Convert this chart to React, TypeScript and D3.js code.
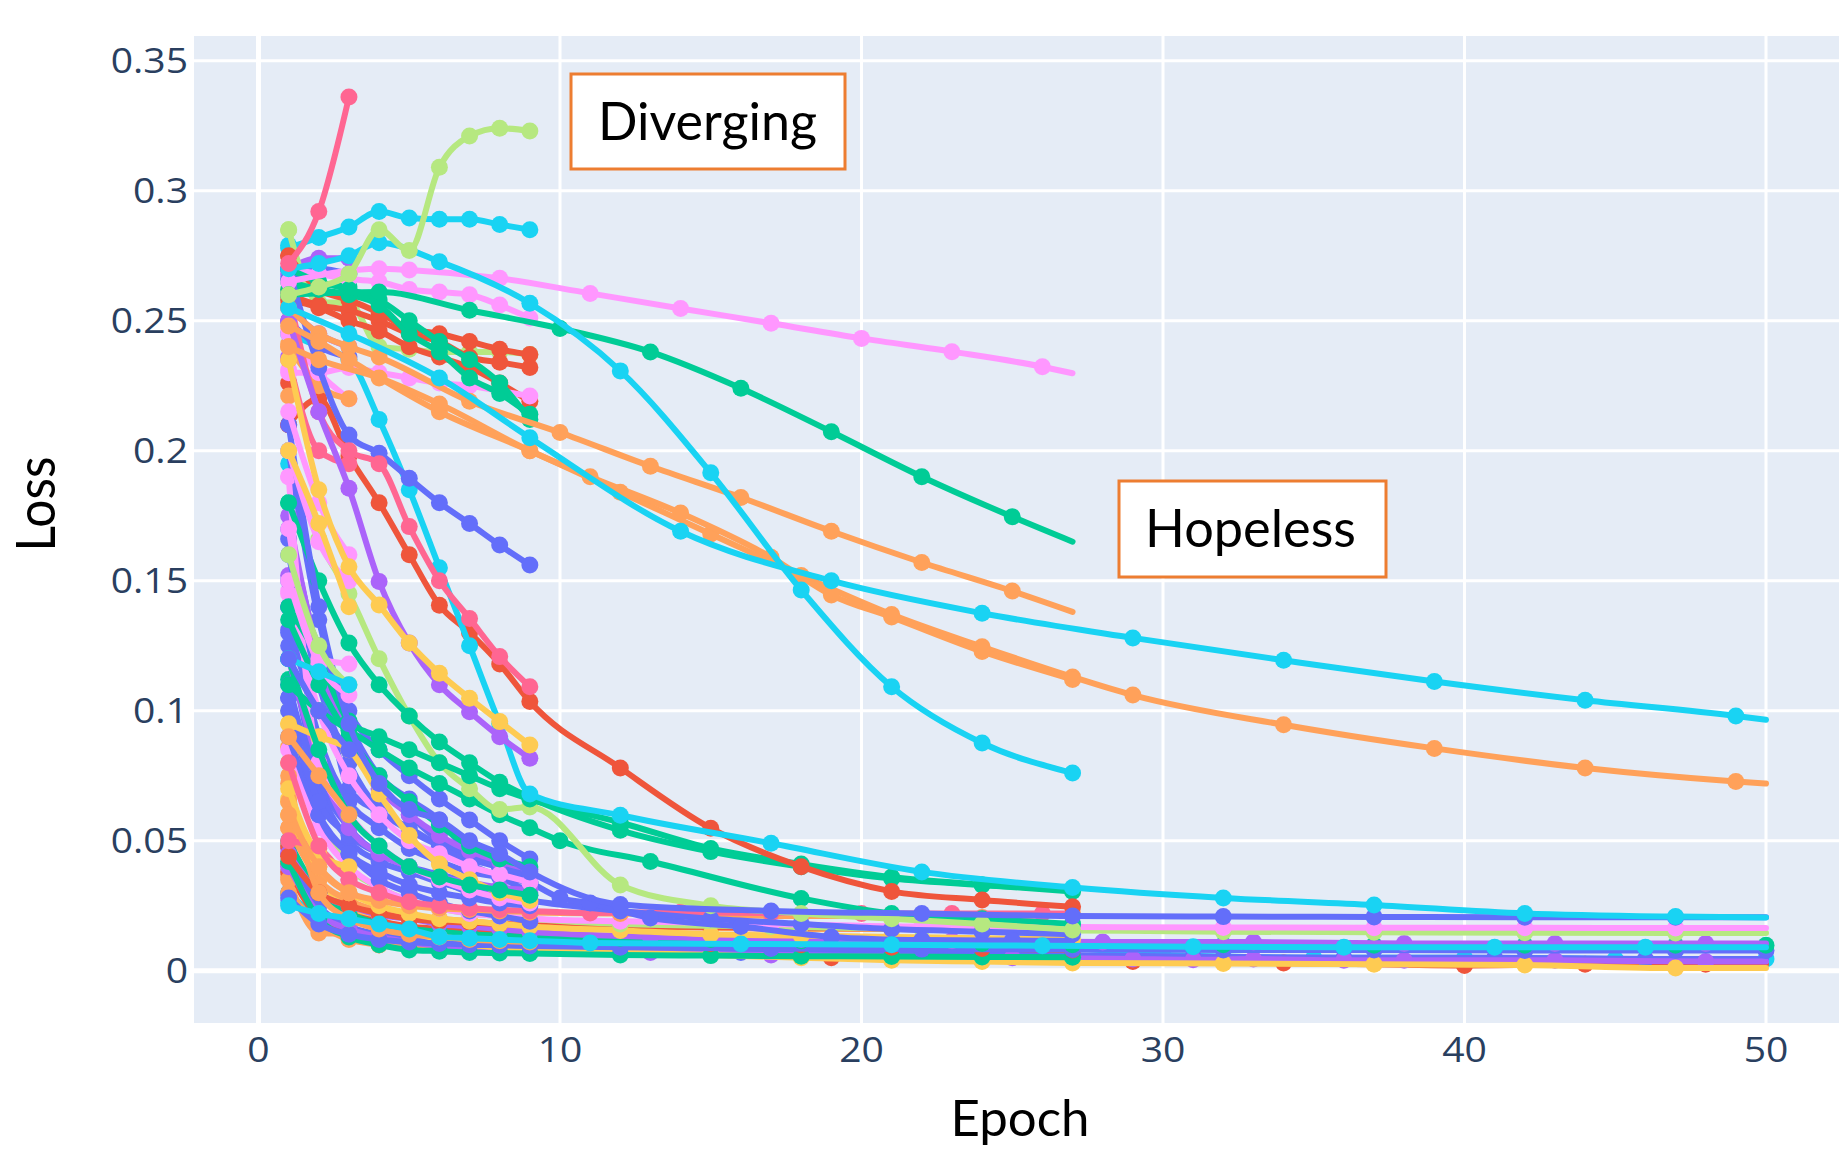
import React from "react";
import * as d3 from "d3";

// plotly default palette
const B = "#636EFA";
const R = "#EF553B";
const G = "#00CC96";
const P = "#AB63FA";
const O = "#FFA15A";
const C = "#19D3F3";
const K = "#FF6692";
const L = "#B6E880";
const M = "#FF97FF";
const Y = "#FECB52";

type Pt = [number, number];
type Run = { color: string; points: Pt[]; tail?: Pt };

// trials that only ran one epoch
const epochOneLosses = [
  0.285, 0.279, 0.275, 0.268, 0.262, 0.256, 0.25, 0.246, 0.241, 0.236, 0.231, 0.226, 0.221,
  0.21, 0.2, 0.195, 0.19, 0.18, 0.166, 0.152, 0.146, 0.14, 0.131, 0.12, 0.112, 0.105, 0.095,
  0.09, 0.086, 0.08, 0.072, 0.066, 0.06, 0.055, 0.047, 0.041, 0.036, 0.03, 0.026,
];
const epochOneColors = [
  L, C, R, P, Y, O, K, M, O, P, M, R, O, R, C, C, M, G, B, P, M, B, B, C, G, B, Y, Y, O, O, O,
  Y, O, O, P, R, O, R, C,
];

// stopped after 3 epochs
const shortRuns: Run[] = [
  { color: P, points: [[1, 0.27], [2, 0.274], [3, 0.274]] },
  { color: B, points: [[1, 0.266], [2, 0.27], [3, 0.268]] },
  { color: G, points: [[1, 0.262], [2, 0.264], [3, 0.263]] },
  { color: P, points: [[1, 0.255], [2, 0.245], [3, 0.24]] },
  { color: B, points: [[1, 0.25], [2, 0.24], [3, 0.236]] },
  { color: M, points: [[1, 0.245], [2, 0.23], [3, 0.22]] },
  { color: O, points: [[1, 0.24], [2, 0.225], [3, 0.22]] },
  { color: K, points: [[1, 0.235], [2, 0.2], [3, 0.195]] },
  { color: M, points: [[1, 0.215], [2, 0.18], [3, 0.16]] },
  { color: M, points: [[1, 0.2], [2, 0.165], [3, 0.15]] },
  { color: Y, points: [[1, 0.2], [2, 0.172], [3, 0.14]] },
  { color: M, points: [[1, 0.17], [2, 0.12], [3, 0.118]] },
  { color: M, points: [[1, 0.15], [2, 0.118], [3, 0.106]] },
  { color: L, points: [[1, 0.16], [2, 0.125], [3, 0.11]] },
  { color: C, points: [[1, 0.12], [2, 0.115], [3, 0.11]] },
  { color: B, points: [[1, 0.12], [2, 0.1], [3, 0.085]] },
  { color: O, points: [[1, 0.09], [2, 0.075], [3, 0.06]] },
  { color: Y, points: [[1, 0.07], [2, 0.045], [3, 0.04]] },
  { color: K, points: [[1, 0.08], [2, 0.048], [3, 0.035]] },
  { color: O, points: [[1, 0.06], [2, 0.04], [3, 0.03]] },
];

// converging trials, near the bottom
const convergingRuns: Run[] = [
  { color: C, points: [[1, 0.03], [2, 0.02], [3, 0.016], [4, 0.013], [5, 0.012], [6, 0.011], [7, 0.0105], [8, 0.01], [9, 0.0098], [12, 0.0095], [15, 0.009], [18, 0.0088], [21, 0.0087], [24, 0.0087], [27, 0.0085], [30, 0.006], [35, 0.005], [40, 0.005], [45, 0.0045], [50, 0.0045]] },
  { color: R, points: [[1, 0.038], [2, 0.02], [3, 0.014], [4, 0.011], [5, 0.0095], [6, 0.009], [7, 0.0085], [8, 0.008], [9, 0.0078], [12, 0.007], [15, 0.0065], [19, 0.005], [24, 0.004], [29, 0.0035], [34, 0.003], [40, 0.002], [44, 0.0025], [48, 0.0025]], tail: [50, 0.0025] },
  { color: O, points: [[1, 0.035], [2, 0.0145], [3, 0.0141], [4, 0.0099], [5, 0.009], [6, 0.0085], [7, 0.008], [8, 0.0075], [9, 0.0072]] },
  { color: O, points: [[1, 0.03], [2, 0.018], [3, 0.012], [4, 0.01], [5, 0.009], [6, 0.0085], [7, 0.008], [8, 0.0078], [9, 0.0075], [12, 0.007], [15, 0.0065], [18, 0.006], [21, 0.006], [24, 0.0055], [27, 0.0055]] },
  { color: B, points: [[1, 0.045], [2, 0.025], [3, 0.017], [4, 0.014], [5, 0.012], [6, 0.011], [7, 0.01], [8, 0.0095], [9, 0.009], [12, 0.008], [16, 0.007], [21, 0.0065], [26, 0.006], [31, 0.0055], [36, 0.005], [41, 0.005], [46, 0.0045]], tail: [50, 0.0045] },
  { color: P, points: [[1, 0.04], [2, 0.022], [3, 0.016], [4, 0.013], [5, 0.011], [6, 0.0095], [7, 0.009], [8, 0.0085], [9, 0.008], [13, 0.007], [17, 0.006], [21, 0.0055], [25, 0.005], [29, 0.0045], [31, 0.0042], [33, 0.0045], [36, 0.004], [38, 0.004], [43, 0.004], [48, 0.0035]], tail: [50, 0.0035] },
  { color: Y, points: [[1, 0.06], [2, 0.035], [3, 0.025], [4, 0.02], [5, 0.015], [6, 0.012], [7, 0.01], [8, 0.009], [9, 0.0085], [12, 0.007], [15, 0.006], [18, 0.005], [21, 0.004], [24, 0.0035], [27, 0.003], [32, 0.0028], [37, 0.0025], [42, 0.0022], [47, 0.001]], tail: [50, 0.001] },
  { color: G, points: [[1, 0.042], [2, 0.02], [3, 0.013], [4, 0.01], [5, 0.008], [6, 0.0075], [7, 0.007], [8, 0.0068], [9, 0.0066], [12, 0.006], [15, 0.0058], [18, 0.0056], [21, 0.0055], [24, 0.0053], [27, 0.0052]] },
  { color: R, points: [[1, 0.048], [2, 0.03], [3, 0.022], [4, 0.019], [5, 0.017], [6, 0.016], [7, 0.015], [8, 0.0145], [9, 0.014], [12, 0.012], [15, 0.0105], [18, 0.01], [21, 0.009], [24, 0.0085], [27, 0.008]] },
  { color: B, points: [[1, 0.028], [2, 0.018], [3, 0.014], [4, 0.012], [5, 0.011], [6, 0.0105], [7, 0.01], [8, 0.0098], [9, 0.0095], [12, 0.009], [17, 0.0085], [22, 0.0083], [27, 0.0082], [32, 0.008], [37, 0.008], [42, 0.0078], [47, 0.0078], [50, 0.0078]] },
  { color: G, points: [[1, 0.05], [2, 0.03], [3, 0.022], [4, 0.018], [5, 0.016], [6, 0.015], [7, 0.014], [8, 0.0135], [9, 0.013], [12, 0.0125], [15, 0.012], [18, 0.0115], [21, 0.011], [24, 0.0105], [27, 0.01], [32, 0.01], [37, 0.0098], [42, 0.0098], [47, 0.0098], [50, 0.0098]] },
  { color: P, points: [[1, 0.045], [2, 0.03], [3, 0.025], [4, 0.0214], [5, 0.02], [6, 0.018], [7, 0.017], [8, 0.016], [9, 0.015], [13, 0.013], [18, 0.012], [23, 0.0115], [28, 0.011], [33, 0.011], [38, 0.0105], [43, 0.0105], [48, 0.0105]], tail: [50, 0.0105] },
  { color: O, points: [[1, 0.055], [2, 0.035], [3, 0.027], [4, 0.023], [5, 0.021], [6, 0.02], [7, 0.019], [8, 0.018], [9, 0.0175], [12, 0.017], [15, 0.0165], [18, 0.016], [21, 0.016], [24, 0.0158], [27, 0.0155]] },
  { color: R, points: [[1, 0.044], [2, 0.03], [3, 0.025], [4, 0.022], [5, 0.02], [6, 0.019], [7, 0.0185], [8, 0.018], [9, 0.0175], [12, 0.017], [15, 0.0168], [18, 0.0165], [21, 0.0162], [24, 0.016], [27, 0.0158]] },
  { color: Y, points: [[1, 0.065], [2, 0.04], [3, 0.03], [4, 0.025], [5, 0.022], [6, 0.02], [7, 0.019], [8, 0.018], [9, 0.017], [12, 0.0155], [15, 0.014], [18, 0.0135], [21, 0.013], [24, 0.0125], [27, 0.012]] },
  { color: L, points: [[1, 0.1], [2, 0.06], [3, 0.04], [4, 0.032], [5, 0.027], [6, 0.024], [7, 0.022], [8, 0.021], [9, 0.02], [12, 0.018], [17, 0.017], [22, 0.016], [27, 0.0155], [32, 0.015], [37, 0.0148], [42, 0.0146], [47, 0.0145]], tail: [50, 0.0145] },
  { color: M, points: [[1, 0.085], [2, 0.055], [3, 0.04], [4, 0.032], [5, 0.027], [6, 0.024], [7, 0.022], [8, 0.021], [9, 0.02], [12, 0.019], [17, 0.018], [22, 0.017], [27, 0.0168], [32, 0.0166], [37, 0.0165], [42, 0.0165], [47, 0.0164]], tail: [50, 0.0164] },
  { color: O, points: [[1, 0.075], [2, 0.03], [3, 0.02], [4, 0.016], [5, 0.014], [6, 0.013], [7, 0.012], [8, 0.0115], [9, 0.011]] },
  { color: B, points: [[1, 0.09], [2, 0.06], [3, 0.045], [4, 0.035], [5, 0.03], [6, 0.026], [7, 0.023], [8, 0.021], [9, 0.019]] },
  { color: O, points: [[1, 0.065], [2, 0.04], [3, 0.03], [4, 0.027], [5, 0.025], [6, 0.024], [7, 0.0235], [8, 0.023], [9, 0.0225], [12, 0.022], [15, 0.0215], [18, 0.021], [21, 0.021], [24, 0.0205], [27, 0.022]] },
  { color: K, points: [[1, 0.05], [2, 0.047], [3, 0.035], [4, 0.03], [5, 0.0265], [6, 0.025], [7, 0.024], [8, 0.0234], [9, 0.023], [11, 0.0222], [14, 0.0225], [17, 0.0222], [20, 0.022], [23, 0.022], [26, 0.022]], tail: [27, 0.022] },
  { color: B, points: [[1, 0.11], [2, 0.07], [3, 0.05], [4, 0.042], [5, 0.038], [6, 0.034], [7, 0.031], [8, 0.029], [9, 0.027], [12, 0.023], [15, 0.02], [18, 0.018], [21, 0.016], [24, 0.015], [27, 0.014]] },
  { color: B, points: [[1, 0.17], [2, 0.12], [3, 0.07], [4, 0.061], [5, 0.054], [6, 0.048], [7, 0.043], [8, 0.0395], [9, 0.034], [10, 0.028], [11, 0.026], [13, 0.0203], [16, 0.017], [19, 0.013], [22, 0.0118], [25, 0.0116]], tail: [27, 0.0115] },
  { color: B, points: [[1, 0.14], [2, 0.09], [3, 0.065], [4, 0.055], [5, 0.047], [6, 0.042], [7, 0.038], [8, 0.036], [9, 0.034]] },
  { color: B, points: [[1, 0.16], [2, 0.11], [3, 0.08], [4, 0.062], [5, 0.055], [6, 0.048], [7, 0.041], [8, 0.036], [9, 0.03]] },
  { color: B, points: [[1, 0.125], [2, 0.075], [3, 0.055], [4, 0.045], [5, 0.04], [6, 0.035], [7, 0.03], [8, 0.028], [9, 0.026]] },
  { color: B, points: [[1, 0.105], [2, 0.06], [3, 0.045], [4, 0.038], [5, 0.033], [6, 0.03], [7, 0.028], [8, 0.026], [9, 0.025]] },
  { color: B, points: [[1, 0.15], [2, 0.125], [3, 0.095], [4, 0.075], [5, 0.066], [6, 0.058], [7, 0.045], [8, 0.04], [9, 0.036]] },
  { color: B, points: [[1, 0.13], [2, 0.1], [3, 0.085], [4, 0.072], [5, 0.06], [6, 0.05], [7, 0.045], [8, 0.04], [9, 0.037]] },
  { color: B, points: [[1, 0.1], [2, 0.065], [3, 0.052], [4, 0.045], [5, 0.04], [6, 0.037], [7, 0.034], [8, 0.031], [9, 0.029]] },
  { color: B, points: [[1, 0.2], [2, 0.135], [3, 0.1], [4, 0.085], [5, 0.075], [6, 0.066], [7, 0.058], [8, 0.05], [9, 0.043]] },
  { color: P, points: [[1, 0.12], [2, 0.08], [3, 0.055], [4, 0.045], [5, 0.04], [6, 0.036], [7, 0.034], [8, 0.032], [9, 0.031]] },
  { color: P, points: [[1, 0.175], [2, 0.12], [3, 0.09], [4, 0.07], [5, 0.06], [6, 0.052], [7, 0.046], [8, 0.042], [9, 0.039]] },
  { color: M, points: [[1, 0.145], [2, 0.1], [3, 0.075], [4, 0.06], [5, 0.05], [6, 0.045], [7, 0.04], [8, 0.037], [9, 0.034]] },
  { color: M, points: [[1, 0.19], [2, 0.08], [3, 0.06], [4, 0.048], [5, 0.04], [6, 0.035], [7, 0.031], [8, 0.028], [9, 0.026]] },
  { color: Y, points: [[1, 0.095], [2, 0.09], [3, 0.085], [4, 0.068], [5, 0.052], [6, 0.041], [7, 0.035], [8, 0.03], [9, 0.027]] },
  { color: G, points: [[1, 0.135], [2, 0.11], [3, 0.09], [4, 0.075], [5, 0.065], [6, 0.056], [7, 0.048], [8, 0.043], [9, 0.04]] },
  { color: G, points: [[1, 0.12], [2, 0.085], [3, 0.06], [4, 0.048], [5, 0.04], [6, 0.036], [7, 0.033], [8, 0.031], [9, 0.029]] },
  { color: G, points: [[1, 0.11], [2, 0.1], [3, 0.0925], [4, 0.085], [5, 0.078], [6, 0.072], [7, 0.066], [8, 0.06], [9, 0.055], [10, 0.05], [13, 0.042], [18, 0.0278], [21, 0.022], [24, 0.02], [27, 0.018]] },
  { color: L, points: [[1, 0.2], [2, 0.166], [3, 0.145], [4, 0.12], [5, 0.098], [6, 0.08], [7, 0.07], [8, 0.062], [9, 0.063], [12, 0.033], [15, 0.025], [18, 0.022], [21, 0.02], [24, 0.018], [27, 0.0157]] },
  { color: G, points: [[1, 0.18], [2, 0.15], [3, 0.126], [4, 0.11], [5, 0.098], [6, 0.088], [7, 0.08], [8, 0.0725], [9, 0.0666], [12, 0.054], [15, 0.0458], [18, 0.04], [21, 0.0355], [24, 0.033], [27, 0.031]] },
  { color: G, points: [[1, 0.14], [2, 0.12], [3, 0.096], [4, 0.09], [5, 0.085], [6, 0.08], [7, 0.075], [8, 0.07], [9, 0.066], [12, 0.057], [15, 0.047], [18, 0.041], [21, 0.036], [24, 0.033], [27, 0.0305]] },
  { color: R, points: [[1, 0.21], [2, 0.22], [3, 0.198], [4, 0.18], [5, 0.16], [6, 0.1406], [7, 0.13], [8, 0.118], [9, 0.1035], [12, 0.078], [15, 0.0548], [18, 0.04], [21, 0.0305], [24, 0.0272], [27, 0.0246]] },
  { color: B, points: [[1, 0.21], [2, 0.14], [3, 0.095], [4, 0.072], [5, 0.062], [6, 0.058], [7, 0.05], [8, 0.045], [9, 0.038], [12, 0.0255], [17, 0.023], [22, 0.022], [27, 0.021], [32, 0.0208], [37, 0.0207], [42, 0.0206], [47, 0.0206]], tail: [50, 0.0206] },
  { color: C, points: [[1, 0.245], [2, 0.24], [3, 0.235], [4, 0.212], [5, 0.185], [6, 0.155], [7, 0.125], [8, 0.095], [9, 0.068], [12, 0.0598], [17, 0.049], [22, 0.038], [27, 0.032], [32, 0.028], [37, 0.0253], [42, 0.022], [47, 0.0208]], tail: [50, 0.0205] },
  { color: C, points: [[1, 0.025], [2, 0.022], [3, 0.02], [4, 0.018], [5, 0.016], [6, 0.0131], [7, 0.0125], [8, 0.012], [9, 0.0115], [11, 0.0107], [16, 0.0103], [21, 0.01], [26, 0.0096], [31, 0.0092], [36, 0.009], [41, 0.009], [46, 0.009]], tail: [50, 0.009] },
];

// stopped after 9 epochs, still high
const upperRungRuns: Run[] = [
  { color: C, points: [[1, 0.278], [2, 0.282], [3, 0.286], [4, 0.292], [5, 0.2895], [6, 0.289], [7, 0.289], [8, 0.287], [9, 0.285]] },
  { color: L, points: [[1, 0.285], [2, 0.257], [3, 0.257], [4, 0.24], [5, 0.239], [6, 0.238], [7, 0.238], [8, 0.238], [9, 0.237]] },
  { color: R, points: [[1, 0.275], [2, 0.262], [3, 0.258], [4, 0.253], [5, 0.247], [6, 0.245], [7, 0.242], [8, 0.239], [9, 0.237]] },
  { color: R, points: [[1, 0.26], [2, 0.256], [3, 0.254], [4, 0.25], [5, 0.245], [6, 0.242], [7, 0.236], [8, 0.234], [9, 0.232]] },
  { color: R, points: [[1, 0.258], [2, 0.255], [3, 0.25], [4, 0.246], [5, 0.24], [6, 0.236], [7, 0.232], [8, 0.226], [9, 0.219]] },
  { color: M, points: [[1, 0.27], [2, 0.268], [3, 0.266], [4, 0.265], [5, 0.262], [6, 0.261], [7, 0.26], [8, 0.256], [9, 0.251]] },
  { color: M, points: [[1, 0.23], [2, 0.23], [3, 0.232], [4, 0.23], [5, 0.228], [6, 0.226], [7, 0.225], [8, 0.223], [9, 0.221]] },
  { color: G, points: [[1, 0.265], [2, 0.262], [3, 0.26], [4, 0.256], [5, 0.245], [6, 0.238], [7, 0.228], [8, 0.222], [9, 0.214]] },
  { color: G, points: [[1, 0.27], [2, 0.265], [3, 0.262], [4, 0.258], [5, 0.25], [6, 0.242], [7, 0.235], [8, 0.226], [9, 0.212]] },
  { color: B, points: [[1, 0.27], [2, 0.232], [3, 0.206], [4, 0.199], [5, 0.1894], [6, 0.18], [7, 0.172], [8, 0.1637], [9, 0.156]] },
  { color: K, points: [[1, 0.26], [2, 0.215], [3, 0.2], [4, 0.195], [5, 0.1708], [6, 0.15], [7, 0.1355], [8, 0.1208], [9, 0.1092]] },
  { color: P, points: [[1, 0.25], [2, 0.215], [3, 0.1856], [4, 0.1497], [5, 0.126], [6, 0.11], [7, 0.0996], [8, 0.09], [9, 0.0817]] },
  { color: Y, points: [[1, 0.235], [2, 0.185], [3, 0.1554], [4, 0.1407], [5, 0.126], [6, 0.1144], [7, 0.1048], [8, 0.0958], [9, 0.0868]] },
];

// slow trials that kept going
const hopelessRuns: Run[] = [
  { color: M, points: [[1, 0.265], [4, 0.27], [5, 0.2695], [8, 0.2663], [11, 0.2605], [14, 0.2547], [17, 0.249], [20, 0.2432], [23, 0.2381], [26, 0.2323]], tail: [27, 0.2298] },
  { color: G, points: [[1, 0.26], [4, 0.261], [7, 0.254], [10, 0.247], [13, 0.238], [16, 0.224], [19, 0.2073], [22, 0.19], [25, 0.1746]], tail: [27, 0.165] },
  { color: O, points: [[1, 0.255], [2, 0.245], [3, 0.24], [4, 0.236], [7, 0.219], [10, 0.207], [13, 0.194], [16, 0.182], [19, 0.169], [22, 0.157], [25, 0.146]], tail: [27, 0.138] },
  { color: O, points: [[1, 0.248], [2, 0.242], [3, 0.235], [6, 0.215], [9, 0.2], [12, 0.184], [15, 0.168], [18, 0.152], [21, 0.137], [24, 0.1246], [27, 0.113], [29, 0.106], [34, 0.0946], [39, 0.0855], [44, 0.078], [49, 0.0728]], tail: [50, 0.072] },
  { color: O, points: [[1, 0.24], [2, 0.235], [4, 0.228], [6, 0.218], [9, 0.2], [11, 0.19], [14, 0.176], [17, 0.159], [19, 0.1445], [21, 0.136], [24, 0.1228], [27, 0.112]] },
  { color: C, points: [[1, 0.255], [3, 0.245], [6, 0.228], [9, 0.205], [14, 0.169], [19, 0.15], [24, 0.1375], [29, 0.128], [34, 0.1194], [39, 0.1112], [44, 0.104], [49, 0.098]], tail: [50, 0.0965] },
  { color: C, points: [[1, 0.27], [2, 0.272], [3, 0.275], [4, 0.28], [6, 0.2727], [9, 0.2567], [12, 0.2307], [15, 0.1915], [18, 0.1464], [21, 0.1092], [24, 0.0876], [27, 0.076]] },
];

// losses going up
const divergingRuns: Run[] = [
  { color: K, points: [[1, 0.272], [2, 0.292], [3, 0.336]] },
  { color: L, points: [[1, 0.26], [2, 0.263], [3, 0.268], [4, 0.285], [5, 0.277], [6, 0.309], [7, 0.321], [8, 0.324], [9, 0.323]] },
];

const xTicks = [0, 10, 20, 30, 40, 50];
const yTicks = [0, 0.05, 0.1, 0.15, 0.2, 0.25, 0.3, 0.35];
const yTickLabels = ["0", "0.05", "0.1", "0.15", "0.2", "0.25", "0.3", "0.35"];

const tickFont = "'Open Sans', 'Noto Sans', sans-serif";
const titleFont = "Lato, 'Open Sans', sans-serif";
const boxColor = "#ED7D31";

export default function App() {
  const width = 1839;
  const height = 1152;

  const x = d3.scaleLinear().domain([0, 50]).range([258.5, 1766]);
  const y = d3.scaleLinear().domain([0, 0.35]).range([970.7, 60.7]);
  const plotLeft = x(-2.14);
  const plotRight = width;
  const plotTop = y(0.3595);
  const plotBottom = y(-0.0201);

  const line = d3
    .line<Pt>()
    .x(d => x(d[0]))
    .y(d => y(d[1]))
    .curve(d3.curveMonotoneX);

  const allRuns = [...convergingRuns, ...shortRuns, ...upperRungRuns, ...hopelessRuns, ...divergingRuns];

  return (
    <svg
      width={width}
      height={height}
      style={{ position: "absolute", left: 0, top: 0, display: "block", background: "#fff" }}
    >
      <defs>
        <clipPath id="plot">
          <rect x={plotLeft} y={plotTop} width={plotRight - plotLeft} height={plotBottom - plotTop} />
        </clipPath>
      </defs>
      <rect x={plotLeft} y={plotTop} width={plotRight - plotLeft} height={plotBottom - plotTop} fill="#E5ECF6" />

      {yTicks.map(t => (
        <line key={"gy" + t} x1={plotLeft} x2={plotRight} y1={y(t)} y2={y(t)} stroke="#fff" strokeWidth={t === 0 ? 5 : 3} />
      ))}
      {xTicks.map(t => (
        <line key={"gx" + t} x1={x(t)} x2={x(t)} y1={plotTop} y2={plotBottom} stroke="#fff" strokeWidth={t === 0 ? 5 : 3} />
      ))}

      <g clipPath="url(#plot)">
        {epochOneLosses.map((v, i) => (
          <circle key={"e1" + i} cx={x(1)} cy={y(v)} r={8.5} fill={epochOneColors[i]} />
        ))}
        {allRuns.map((run, i) => {
          const pts = run.tail ? [...run.points, run.tail] : run.points;
          return (
            <g key={"run" + i}>
              <path d={line(pts) || ""} fill="none" stroke={run.color} strokeWidth={6} strokeLinejoin="round" strokeLinecap="round" />
              {run.points.map((p, j) => (
                <circle key={j} cx={x(p[0])} cy={y(p[1])} r={8.5} fill={run.color} />
              ))}
            </g>
          );
        })}
      </g>

      {yTicks.map((t, i) => (
        <text
          key={"ty" + t}
          transform={`translate(188, ${y(t) + 12}) scale(1.15, 1)`}
          textAnchor="end"
          fontFamily={tickFont}
          fontSize={34}
          fill="#2a3f5f"
        >
          {yTickLabels[i]}
        </text>
      ))}
      {xTicks.map(t => (
        <text
          key={"tx" + t}
          transform={`translate(${x(t)}, 1062) scale(1.15, 1)`}
          textAnchor="middle"
          fontFamily={tickFont}
          fontSize={34}
          fill="#2a3f5f"
        >
          {t}
        </text>
      ))}

      <text
        transform="translate(55, 504) rotate(-90)"
        textAnchor="middle"
        fontFamily={titleFont}
        fontSize={54}
        fill="#000"
        textLength={95}
        lengthAdjust="spacingAndGlyphs"
      >
        Loss
      </text>
      <text
        x={1020}
        y={1136}
        textAnchor="middle"
        fontFamily={titleFont}
        fontSize={50}
        fill="#000"
        textLength={139}
        lengthAdjust="spacingAndGlyphs"
      >
        Epoch
      </text>

      <rect x={571} y={74} width={274} height={95} fill="#fff" stroke={boxColor} strokeWidth={3} />
      <text x={598} y={140} fontFamily={titleFont} fontSize={52} fill="#000" textLength={219} lengthAdjust="spacingAndGlyphs">
        Diverging
      </text>
      <rect x={1119} y={481} width={267} height={96} fill="#fff" stroke={boxColor} strokeWidth={3} />
      <text x={1145} y={547} fontFamily={titleFont} fontSize={52} fill="#000" textLength={211} lengthAdjust="spacingAndGlyphs">
        Hopeless
      </text>
    </svg>
  );
}
